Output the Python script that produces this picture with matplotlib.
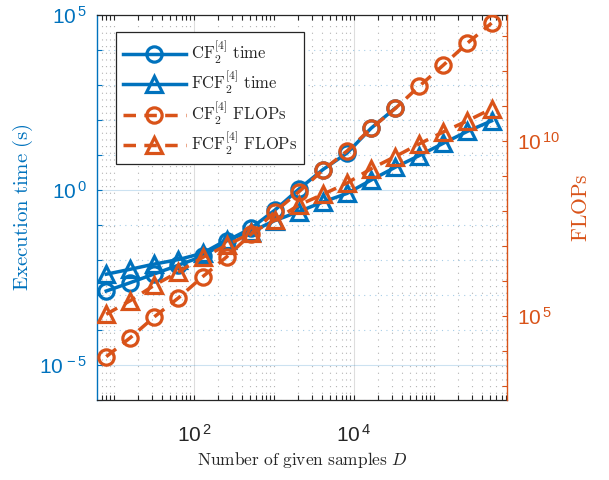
import numpy as np
import matplotlib
matplotlib.use('Agg')
import matplotlib.pyplot as plt
from matplotlib.ticker import FixedLocator, NullFormatter, FuncFormatter

plt.rcParams['mathtext.fontset'] = 'custom'
plt.rcParams['mathtext.rm'] = 'Liberation Sans'
plt.rcParams['mathtext.it'] = 'Liberation Sans:italic'
plt.rcParams['mathtext.bf'] = 'Liberation Sans:bold'
plt.rcParams['font.family'] = ['Liberation Sans', 'DejaVu Sans']

# ---------------- data ----------------
D = [8, 16, 32, 64, 128, 256, 512, 1024, 2048, 4096, 8192, 16384,
     32768, 65536, 131072, 262144, 524288]

cf_time = [1.29e-3, 2.24e-3, 3.98e-3, 7.08e-3, 1.26e-2, 3.47e-2, 7.9e-2,
           0.263, 1.05, 3.8, 11.2, 57.5, 214.0]
fcf_time = [3.9e-3, 5.4e-3, 7.6e-3, 1.02e-2, 1.55e-2, 3.7e-2, 6.3e-2, 0.132,
            0.24, 0.45, 0.79, 1.9, 4.4, 9.5, 21.4, 46.8, 93.0]
cf_flops = [6.9e3, 2.4e4, 9.5e4, 3.3e5, 1.32e6, 4.9e6, 2.14e7, 9.5e7, 3.55e8,
            1.48e9, 5.2e9, 2.3e10, 8.5e10, 3.7e11, 1.48e12, 6.3e12, 2.34e13]
fcf_flops = [1.12e5, 2.75e5, 7.6e5, 1.82e6, 4.7e6, 1.05e7, 2.3e7, 5.5e7,
             1.48e8, 3.0e8, 6.3e8, 1.62e9, 3.6e9, 8.3e9, 1.82e10, 3.8e10, 8.3e10]

labels = [r'$\mathrm{CF}_2^{[4]}\ \mathrm{time}$',
          r'$\mathrm{FCF}_2^{[4]}\ \mathrm{time}$',
          r'$\mathrm{CF}_2^{[4]}\ \mathrm{FLOPs}$',
          r'$\mathrm{FCF}_2^{[4]}\ \mathrm{FLOPs}$']

left_ticks = [1e-5, 1e0, 1e5]
right_ticks = [1e5, 1e10]
x_ticks = [1e2, 1e4]

BLUE = '#0072BD'
ORANGE = '#D95319'
DARK = '#262626'

fig = plt.figure(figsize=(6.09, 4.80), dpi=100)
ax = fig.add_axes([0.1588, 0.1667, 0.6737, 0.8027])
ax2 = ax.twinx()

ms = 11
lw = 2.5
mew = 2.3
l1, = ax.plot(D[:len(cf_time)], cf_time, '-', color=BLUE, lw=lw, marker='o',
              ms=ms, mew=mew, mfc='none', mec=BLUE)
l2, = ax.plot(D, fcf_time, '-', color=BLUE, lw=lw, marker='^',
              ms=ms + 1, mew=mew, mfc='none', mec=BLUE)
l3, = ax2.plot(D, cf_flops, '--', color=ORANGE, lw=lw, marker='o',
               ms=ms, mew=mew, mfc='none', mec=ORANGE, dashes=(3.6, 2.4))
l4, = ax2.plot(D, fcf_flops, '--', color=ORANGE, lw=lw, marker='^',
               ms=ms + 1, mew=mew, mfc='none', mec=ORANGE, dashes=(3.6, 2.4))

for a in (ax, ax2):
    a.set_xscale('log')
    a.set_yscale('log')
ax.set_xlim(10**0.784, 10**5.9125)
ax.set_ylim(1e-6, 10**5.0)
ax2.set_ylim(10**2.6, 10**13.61)

def pow_fmt(v, p):
    e = int(round(np.log10(v)))
    return r'$10^{\,%d}$' % e

# x ticks
ax.xaxis.set_major_locator(FixedLocator(x_ticks))
xminor = [m * 10.0**e for e in range(0, 6) for m in range(1, 10)
          if m * 10.0**e not in x_ticks]
ax.xaxis.set_minor_locator(FixedLocator(xminor))
ax.xaxis.set_major_formatter(FuncFormatter(pow_fmt))
ax.xaxis.set_minor_formatter(NullFormatter())

# left y ticks
ax.yaxis.set_major_locator(FixedLocator(left_ticks))
ax.yaxis.set_minor_locator(FixedLocator([10.0**e for e in range(-6, 6)
                                         if 10.0**e not in left_ticks]))
ax.yaxis.set_major_formatter(FuncFormatter(pow_fmt))
ax.yaxis.set_minor_formatter(NullFormatter())

# right y ticks
ax2.yaxis.set_major_locator(FixedLocator(right_ticks))
ax2.yaxis.set_minor_locator(FixedLocator([10.0**e for e in range(3, 14)
                                          if 10.0**e not in right_ticks]))
ax2.yaxis.set_major_formatter(FuncFormatter(pow_fmt))
ax2.yaxis.set_minor_formatter(NullFormatter())

tick_fs = 15
ax.tick_params(axis='x', which='both', direction='in', top=True, bottom=True,
               length=3.5, width=0.8, color=DARK, labelcolor=DARK,
               labelsize=tick_fs, pad=17)
ax.tick_params(axis='y', which='both', direction='in', left=True, right=False,
               length=3.5, width=0.8, color=BLUE, labelcolor=BLUE,
               labelsize=tick_fs, pad=7)
ax2.tick_params(axis='y', which='both', direction='in', right=True, left=False,
                length=3.5, width=0.8, color=ORANGE, labelcolor=ORANGE,
                labelsize=tick_fs, pad=7)

# spines
for s in ('top', 'bottom'):
    ax.spines[s].set_color(DARK)
    ax.spines[s].set_linewidth(0.9)
    ax2.spines[s].set_visible(False)
ax.spines['left'].set_color(BLUE)
ax.spines['left'].set_linewidth(1.0)
ax.spines['right'].set_visible(False)
ax2.spines['left'].set_visible(False)
ax2.spines['right'].set_color(ORANGE)
ax2.spines['right'].set_linewidth(1.0)

# grid
ax.set_axisbelow(True)
ax.grid(True, which='major', axis='x', color=DARK, alpha=0.15, lw=0.8, ls='-')
ax.grid(True, which='minor', axis='x', color=DARK, alpha=0.35, lw=0.8, ls=(0, (1, 5)))
ax.grid(True, which='major', axis='y', color=BLUE, alpha=0.2, lw=0.8, ls='-')
ax.grid(True, which='minor', axis='y', color=BLUE, alpha=0.35, lw=0.8, ls=(0, (1, 4)))

# labels
ax.set_xlabel(r'$\mathrm{Number\ of\ given\ samples\ }D$', fontsize=12.5,
              color=DARK, math_fontfamily='cm', labelpad=3)
ax.set_ylabel(r'$\mathrm{Execution\ time\ (s)}$', fontsize=15, color=BLUE,
              math_fontfamily='cm', labelpad=3)
ax2.set_ylabel(r'$\mathrm{FLOPs}$', fontsize=15.5, color=ORANGE,
               math_fontfamily='cm', labelpad=8)

# legend
leg = ax2.legend([l1, l2, l3, l4], labels, loc='upper left',
                 bbox_to_anchor=(0.047, 0.955), borderaxespad=0,
                 fontsize=12, handlelength=3.8, handletextpad=0.3,
                 labelspacing=0.2, borderpad=0.4, fancybox=False,
                 framealpha=1, edgecolor=DARK)
leg.get_frame().set_linewidth(0.9)
for t in leg.get_texts():
    t.set_math_fontfamily('cm')
    t.set_color(DARK)

fig.savefig('out.png', dpi=100)
